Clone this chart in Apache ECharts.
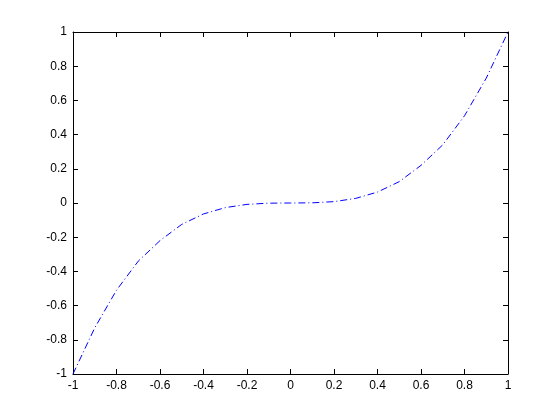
<!DOCTYPE html>
<html>
<head>
<meta charset="utf-8">
<script src="https://cdn.jsdelivr.net/npm/echarts@6/dist/echarts.min.js"></script>
<style>
html, body { margin: 0; padding: 0; background: #fff; }
#chart { width: 560px; height: 420px; }
</style>
</head>
<body>
<div id="chart"></div>
<script>
var xValues = [-1, -0.9, -0.8, -0.7, -0.6, -0.5, -0.4, -0.3, -0.2, -0.1, 0,
    0.1, 0.2, 0.3, 0.4, 0.5, 0.6, 0.7, 0.8, 0.9, 1];
var yValues = [-1, -0.73, -0.51, -0.34, -0.22, -0.125, -0.064, -0.027, -0.008, -0.001, 0,
    0.001, 0.008, 0.027, 0.064, 0.125, 0.22, 0.34, 0.51, 0.73, 1];

var points = xValues.map(function(x, i){ return [x, yValues[i]]; });

var labelStyle = {
    color: '#000',
    fontFamily: 'Liberation Sans, Arial, sans-serif',
    fontSize: 12
};
var lineColor = '#000';

function tickLabel(v){
    return String(Math.round(v * 10) / 10);
}

function makeAxis(pos, showLabels){
    return {
        type: 'value',
        position: pos,
        min: -1,
        max: 1,
        interval: 0.2,
        axisLine: { show: true, onZero: false, lineStyle: { color: lineColor, width: 1 } },
        axisTick: { show: true, inside: true, length: 5, lineStyle: { color: lineColor } },
        axisLabel: Object.assign({ show: showLabels, formatter: tickLabel, margin: 6 }, labelStyle),
        splitLine: { show: false }
    };
}

var chart = echarts.init(document.getElementById('chart'));
chart.setOption({
    backgroundColor: '#fff',
    animation: false,
    grid: { left: 73, right: 52, top: 32, bottom: 46 },
    xAxis: [makeAxis('bottom', true), makeAxis('top', false)],
    yAxis: [makeAxis('left', true), makeAxis('right', false)],
    series: [{
        type: 'line',
        data: points,
        showSymbol: false,
        smooth: false,
        lineStyle: { color: '#0000ff', width: 1, type: [7, 3, 1, 3] }
    }]
});
</script>
</body>
</html>
